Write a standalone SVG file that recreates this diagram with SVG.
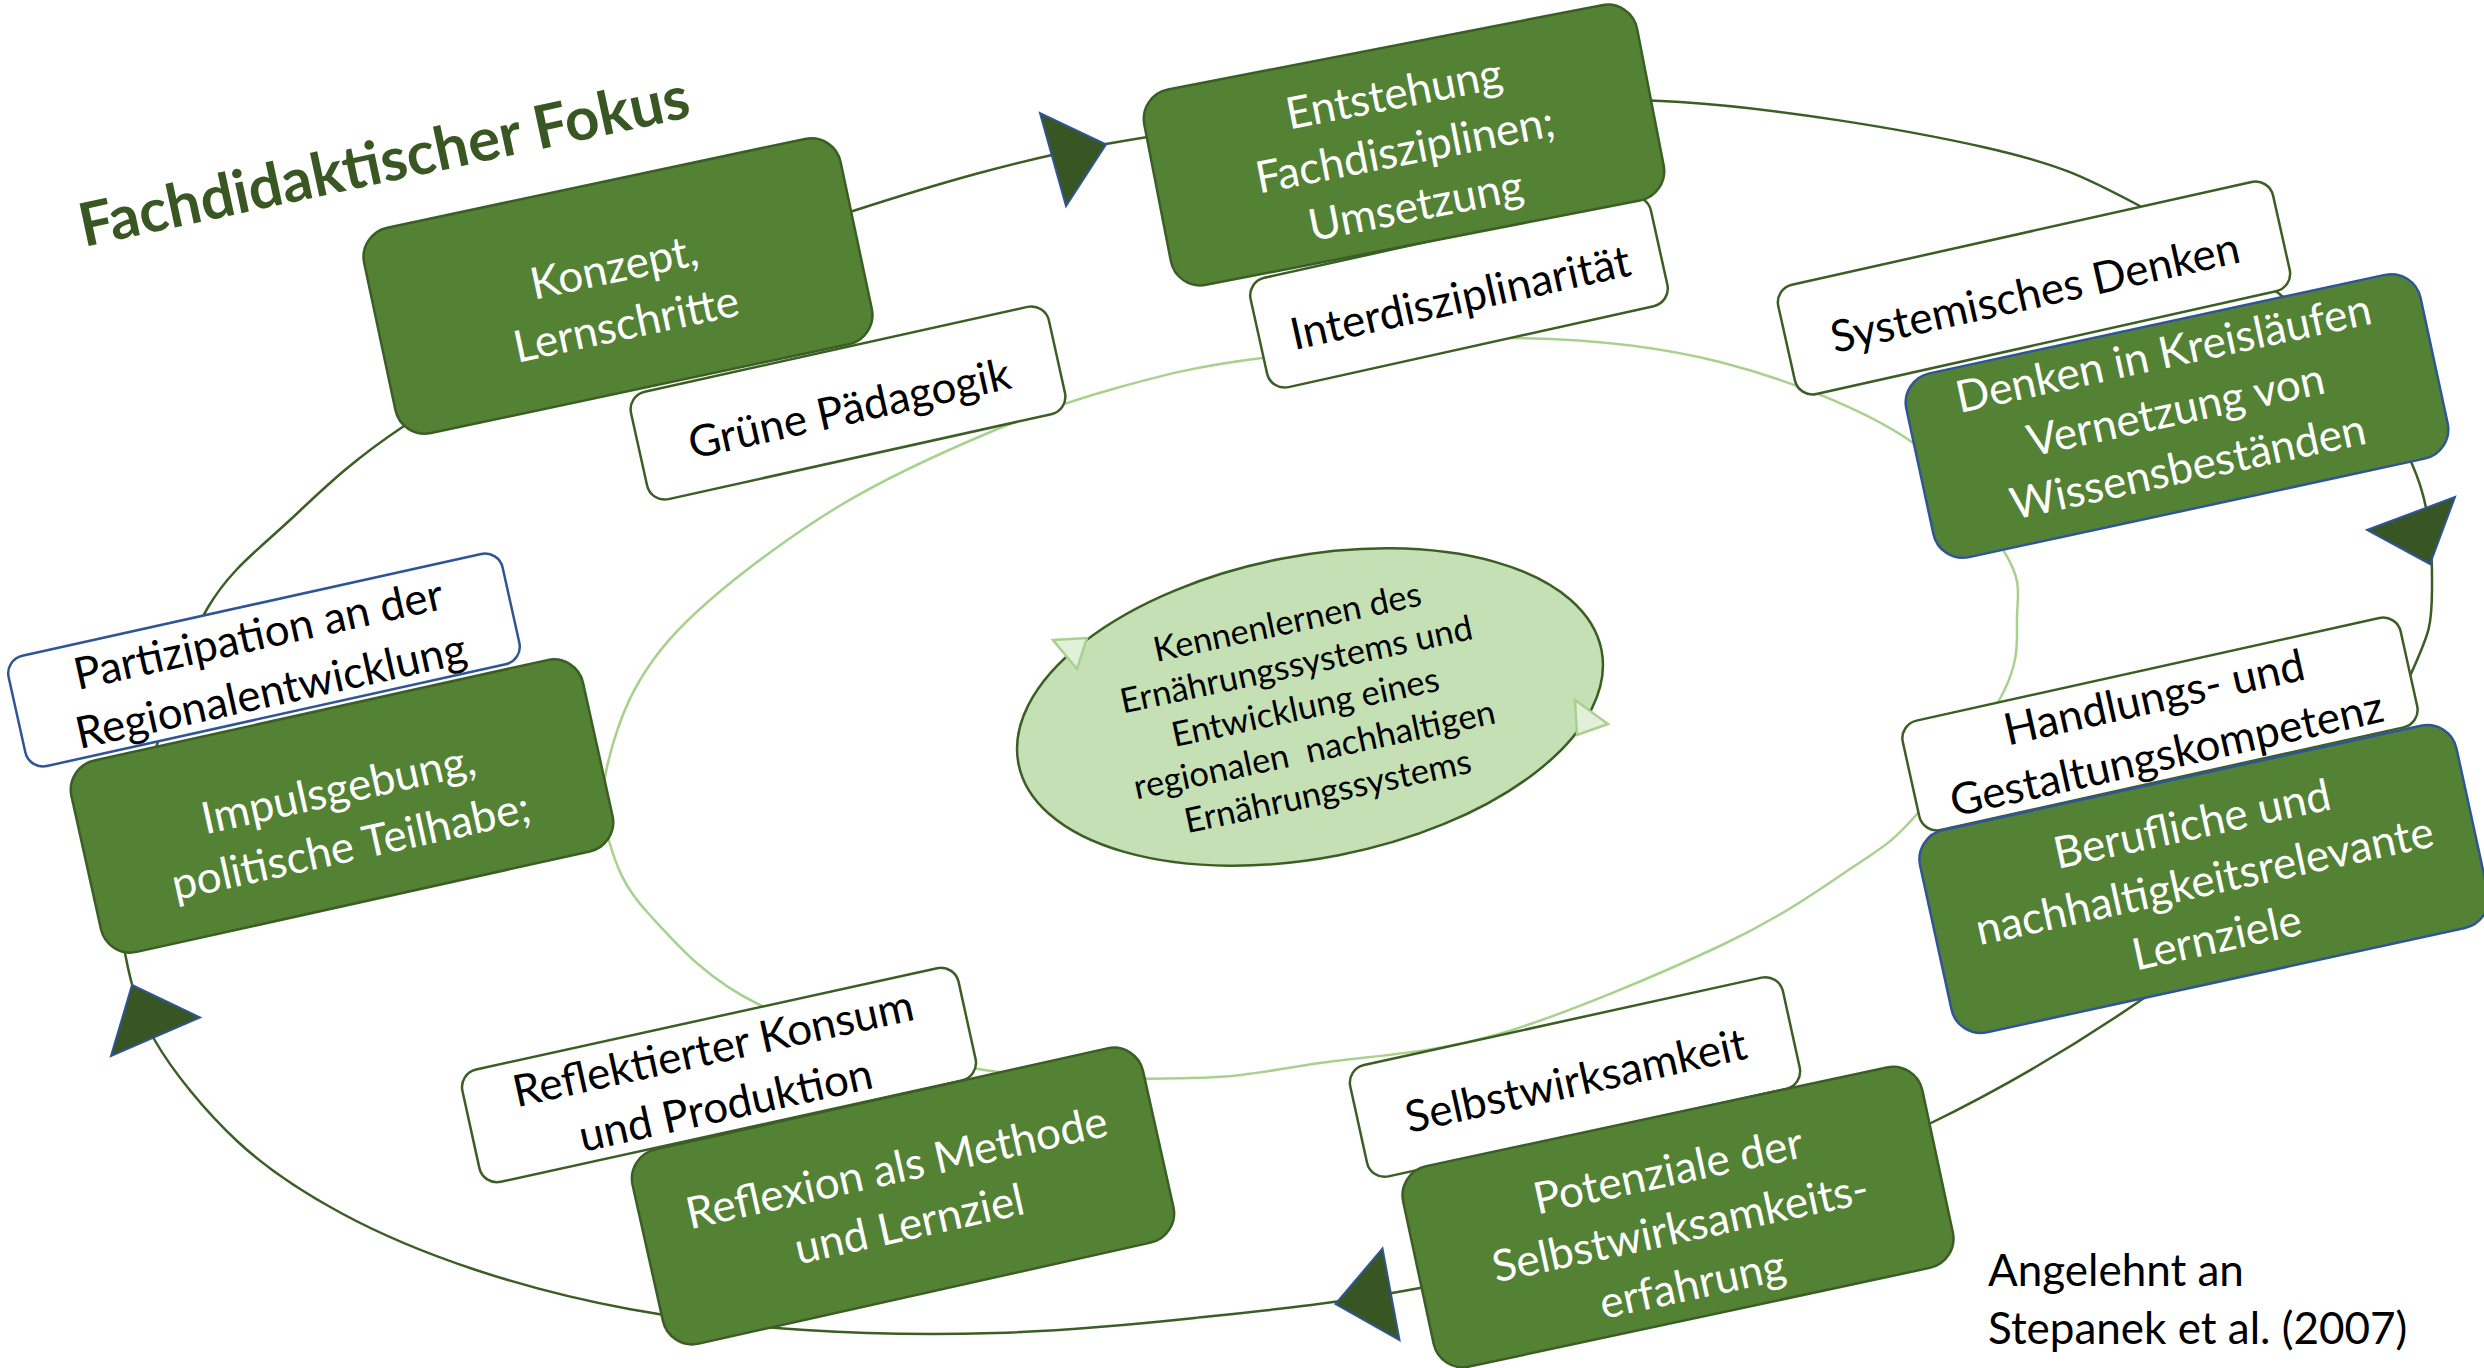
<svg xmlns="http://www.w3.org/2000/svg" width="2484" height="1368" viewBox="0 0 2484 1368">
<style>
  .lbl { font-family: Lato, "Liberation Sans", sans-serif; font-size: 44px; text-anchor: middle; }
  .wt { fill: #ffffff; }
  .bt { fill: #000000; }
  .gbox { fill: #548235; stroke: #3B5E24; stroke-width: 2.5; }
  .wbox { fill: #ffffff; stroke: #3B5E24; stroke-width: 2.5; }
  .blue { stroke: #2F5597; }
  .outer { fill: none; stroke: #3B5E24; stroke-width: 2.5; }
  .inner { fill: none; stroke: #A9D18E; stroke-width: 2.5; }
  .arrow { fill: #375623; stroke: #2F5597; stroke-width: 2; stroke-linejoin: miter; }
  .sarrow { fill: #E2F0D9; stroke: #A9D18E; stroke-width: 2.5; }
</style>
<rect width="2484" height="1368" fill="#ffffff"/>

<g id="connectors">
  <path class="outer" d="M 404,426 C 459,389.3 544.7,336 620,300 C 695.3,264 775,236 856,210 C 937,184 1015.3,160.7 1106,144 C 1196.7,127.3 1304.3,117 1400,110 C 1495.7,103 1582.8,95.8 1680,102 C 1777.2,108.2 1906.7,129.8 1983,147 C 2059.3,164.2 2083.5,176.2 2138,205 C 2192.5,233.8 2264.3,276.8 2310,320 C 2355.7,363.2 2391.7,419 2412,464 C 2432.3,509 2432.3,554.7 2432,590 C 2431.7,625.3 2430.3,631 2410,676 C 2389.7,721 2353.8,806.7 2310,860 C 2266.2,913.3 2210.5,952 2147,996 C 2083.5,1040 2008.5,1085.3 1929,1124 C 1849.5,1162.7 1754.8,1200.7 1670,1228 C 1585.2,1255.3 1499.2,1273 1420,1288 C 1340.8,1303 1265.7,1310.5 1195,1318 C 1124.3,1325.5 1061,1331 996,1333 C 931,1335 866.2,1334 805,1330 C 743.8,1326 684.3,1319.2 629,1309 C 573.7,1298.8 521,1285 473,1269 C 425,1253 380.3,1234.3 341,1213 C 301.7,1191.7 268.2,1170 237,1141 C 205.8,1112 173,1072.2 154,1039 C 135,1005.8 128.2,971.8 123,942 C 117.8,912.2 117.8,891.3 123,860 C 128.2,828.7 140,795.8 154,754 C 168,712.2 184.3,648 207,609 C 229.7,570 257.2,550.5 290,520 C 322.8,489.5 349,462.7 404,426 Z"/>
  <path class="inner" d="M 606,772 C 611.2,745.2 622.7,708.7 640,680 C 657.3,651.3 676.5,629.2 710,600 C 743.5,570.8 794.7,532.8 841,505 C 887.3,477.2 941.5,452.7 988,433 C 1034.5,413.3 1074.3,399.5 1120,387 C 1165.7,374.5 1196.8,366.2 1262,358 C 1327.2,349.8 1434.7,337.3 1511,338 C 1587.3,338.7 1653.7,345 1720,362 C 1786.3,379 1861.5,408.2 1909,440 C 1956.5,471.8 1987,523.3 2005,553 C 2023,582.7 2017.3,594.7 2017,618 C 2016.7,641.3 2019.7,660.3 2003,693 C 1986.3,725.7 1942.5,784.7 1917,814 C 1891.5,843.3 1882.5,847.2 1850,869 C 1817.5,890.8 1780.5,917.5 1722,945 C 1663.5,972.5 1566,1014.3 1499,1034 C 1432,1053.7 1371.5,1055.7 1320,1063 C 1268.5,1070.3 1247,1077 1190,1078 C 1133,1079 1049.7,1081.2 978,1069 C 906.3,1056.8 815,1031 760,1005 C 705,979 673.2,940.3 648,913 C 622.8,885.7 616,864.5 609,841 C 602,817.5 600.8,798.8 606,772 Z"/>
  <polygon class="arrow" points="1106,144.5 1040,113 1066,206"/>
  <polygon class="arrow" points="2430,564 2367,530 2455,497"/>
  <polygon class="arrow" points="1335.5,1304 1382.5,1248.5 1399.5,1340"/>
  <polygon class="arrow" points="132,985 111,1056 200,1017.5"/>
</g>

<g id="node-center">
  <ellipse cx="1310" cy="707" rx="297" ry="151" transform="rotate(-11 1310 707)" fill="#C5E0B4" stroke="#3B5E24" stroke-width="2.5"/>
  <polygon class="sarrow" points="1053,640 1087,638 1077,669"/>
  <polygon class="sarrow" points="1575,700 1608,724 1577,735"/>
  <text class="bt" transform="translate(1310,708) rotate(-12)" style="font-family: Lato, 'Liberation Sans', sans-serif; font-size: 34.5px; text-anchor: middle;">
    <tspan x="0" y="-77">Kennenlernen des</tspan>
    <tspan x="0" y="-33.5">Ernährungssystems und</tspan>
    <tspan x="0" y="10">Entwicklung eines</tspan>
    <tspan x="0" y="53.5">regionalen&#160; nachhaltigen</tspan>
    <tspan x="0" y="97">Ernährungssystems</tspan>
  </text>
</g>

<g id="node-gruene" transform="translate(848,403) rotate(-12.5)">
  <rect class="wbox" x="-214" y="-55" width="428" height="110" rx="18"/>
  <text class="lbl bt"><tspan x="0" y="21">Grüne Pädagogik</tspan></text>
</g>
<g id="node-konzept" transform="translate(618,286) rotate(-12)">
  <rect class="gbox" x="-243.5" y="-105" width="487" height="210" rx="30"/>
  <text class="lbl wt"><tspan x="0" y="-4">Konzept,</tspan><tspan x="0" y="54">Lernschritte</tspan></text>
</g>

<g id="node-interdisziplinaritaet" transform="translate(1459,292) rotate(-12.5)">
  <rect class="wbox" x="-205" y="-56" width="410" height="112" rx="18"/>
  <text class="lbl bt"><tspan x="0" y="21">Interdisziplinarität</tspan></text>
</g>
<g id="node-entstehung" transform="translate(1404,145) rotate(-11)">
  <rect class="gbox" x="-251" y="-99.5" width="502" height="199" rx="30"/>
  <text class="lbl wt"><tspan x="0" y="-37">Entstehung</tspan><tspan x="0" y="20">Fachdisziplinen;</tspan><tspan x="0" y="77">Umsetzung</tspan></text>
</g>

<g id="node-systemisch" transform="translate(2034,288) rotate(-12.6)">
  <rect class="wbox" x="-253.5" y="-56" width="507" height="112" rx="18"/>
  <text class="lbl bt"><tspan x="0" y="20">Systemisches Denken</tspan></text>
</g>
<g id="node-kreislaeufe" transform="translate(2177,416) rotate(-12.2)">
  <rect class="gbox blue" x="-263" y="-94" width="526" height="188" rx="30"/>
  <text class="lbl wt"><tspan x="0" y="-49">Denken in Kreisläufen</tspan><tspan x="0" y="9">Vernetzung von</tspan><tspan x="0" y="67">Wissensbeständen</tspan></text>
</g>

<g id="node-handlung" transform="translate(2160,724) rotate(-12.5)">
  <rect class="wbox" x="-255" y="-56" width="510" height="112" rx="18"/>
  <text class="lbl bt"><tspan x="0" y="-12">Handlungs- und</tspan><tspan x="0" y="46">Gestaltungskompetenz</tspan></text>
</g>
<g id="node-berufliche" transform="translate(2204,879) rotate(-12.3)">
  <rect class="gbox blue" x="-274.5" y="-103.5" width="549" height="207" rx="30"/>
  <text class="lbl wt"><tspan x="0" y="-41">Berufliche und</tspan><tspan x="0" y="17">nachhaltigkeitsrelevante</tspan><tspan x="0" y="75">Lernziele</tspan></text>
</g>

<g id="node-selbstwirksamkeit" transform="translate(1575,1077) rotate(-12.4)">
  <rect class="wbox" x="-221.5" y="-57" width="443" height="114" rx="18"/>
  <text class="lbl bt"><tspan x="0" y="19">Selbstwirksamkeit</tspan></text>
</g>
<g id="node-potenziale" transform="translate(1678,1217) rotate(-12.1)">
  <rect class="gbox" x="-265.5" y="-102.5" width="531" height="205" rx="30"/>
  <text class="lbl wt"><tspan x="0" y="-32">Potenziale der</tspan><tspan x="0" y="26">Selbstwirksamkeits-</tspan><tspan x="0" y="84">erfahrung</tspan></text>
</g>

<g id="node-konsum" transform="translate(719,1075) rotate(-12.4)">
  <rect class="wbox" x="-254" y="-57.5" width="508" height="115" rx="18"/>
  <text class="lbl bt"><tspan x="0" y="-12">Reflektierter Konsum</tspan><tspan x="0" y="46">und Produktion</tspan></text>
</g>
<g id="node-reflexion" transform="translate(903,1196) rotate(-12.6)">
  <rect class="gbox" x="-261.5" y="-99.5" width="523" height="199" rx="30"/>
  <text class="lbl wt"><tspan x="0" y="-14">Reflexion als Methode</tspan><tspan x="0" y="44">und Lernziel</tspan></text>
</g>

<g id="node-partizipation" transform="translate(264,660) rotate(-12.5)">
  <rect class="wbox blue" x="-253" y="-56.5" width="506" height="113" rx="18"/>
  <text class="lbl bt"><tspan x="0" y="-11">Partizipation an der</tspan><tspan x="0" y="47">Regionalentwicklung</tspan></text>
</g>
<g id="node-impuls" transform="translate(342,806) rotate(-12.5)">
  <rect class="gbox" x="-262" y="-98" width="524" height="196" rx="30"/>
  <text class="lbl wt"><tspan x="0" y="-2">Impulsgebung,</tspan><tspan x="0" y="56">politische Teilhabe;</tspan></text>
</g>

<g id="title">
  <text x="84" y="247" transform="rotate(-12.1 84 247)" style="font-family: Lato, 'Liberation Sans', sans-serif; font-size: 60px; font-weight: bold;" fill="#385723">Fachdidaktischer Fokus</text>
</g>

<g id="source">
  <text style="font-family: Lato, 'Liberation Sans', sans-serif; font-size: 44px;" fill="#000000">
    <tspan x="1988" y="1286">Angelehnt an</tspan>
    <tspan x="1988" y="1344">Stepanek et al. (2007)</tspan>
  </text>
</g>
</svg>
